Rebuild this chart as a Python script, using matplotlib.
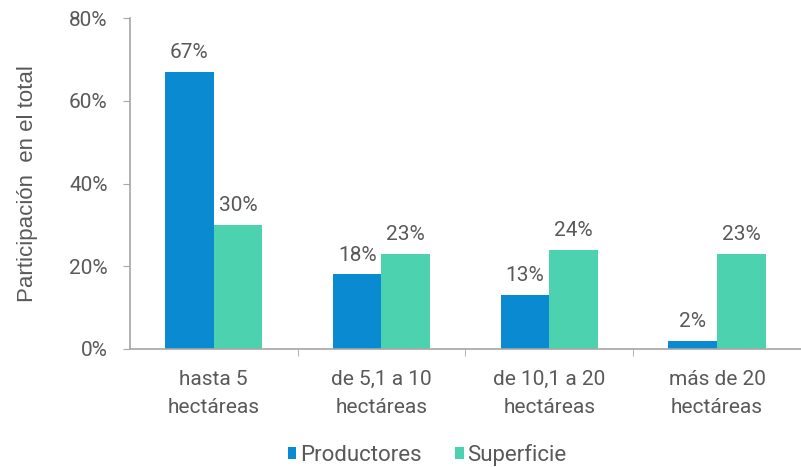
import numpy as np
import matplotlib
matplotlib.use('Agg')
import matplotlib.pyplot as plt
from matplotlib.ticker import FuncFormatter

categories = ["hasta 5\nhectáreas", "de 5,1 a 10\nhectáreas",
              "de 10,1 a 20\nhectáreas", "más de 20\nhectáreas"]
productores = [67, 18, 13, 2]
superficie = [30, 23, 24, 23]
yticks = [0, 20, 40, 60, 80]

BLUE = "#0a8ad0"
GREEN = "#4dd2b0"
GRAY = "#595959"
AXIS = "#a6a6a6"

plt.rcParams['font.family'] = ['Roboto', 'DejaVu Sans']

fig = plt.figure(figsize=(8.01, 4.67), dpi=100)
ax = fig.add_axes([0.162, 0.253, 0.838, 0.708])

x = np.arange(len(categories))
w = 0.29
b1 = ax.bar(x - w / 2, productores, w, color=BLUE, label="Productores")
b2 = ax.bar(x + w / 2, superficie, w, color=GREEN, label="Superficie")

for bars, vals in ((b1, productores), (b2, superficie)):
    for rect, v in zip(bars, vals):
        ax.annotate(f"{v}%", (rect.get_x() + rect.get_width() / 2, v),
                    xytext=(0, 7), textcoords="offset points",
                    ha="center", va="bottom", fontsize=15, color=GRAY)

ax.set_xlim(-0.5, len(categories) - 0.5)
ax.set_ylim(0, 80)
ax.set_yticks(yticks)
ax.yaxis.set_major_formatter(FuncFormatter(lambda v, p: f"{int(v)}%"))
ax.set_xticks(x)
ax.set_xticklabels(categories, fontsize=15, color=GRAY, linespacing=1.6)
ax.set_xticks(np.arange(0.5, len(categories) - 1, 1.0), minor=True)
ax.tick_params(axis="x", which="major", length=0, pad=15)
ax.tick_params(axis="x", which="minor", length=5, color=AXIS)
ax.tick_params(axis="y", length=5, color=AXIS, labelsize=15, labelcolor=GRAY, pad=11)

for s in ("top", "right"):
    ax.spines[s].set_visible(False)
for s in ("left", "bottom"):
    ax.spines[s].set_color(AXIS)
    ax.spines[s].set_linewidth(1.2)

ax.set_ylabel("Participación  en el total", fontsize=16, color=GRAY,
              labelpad=22, family=["Liberation Sans", "DejaVu Sans"])

leg = fig.legend(handles=[b1, b2], loc="center", bbox_to_anchor=(0.533, 0.026),
                 ncol=2, frameon=False, fontsize=16, handlelength=0.4,
                 handleheight=0.4, handletextpad=0.15, columnspacing=1.5)
for t in leg.get_texts():
    t.set_color(GRAY)

fig.savefig("out.png", dpi=100)
